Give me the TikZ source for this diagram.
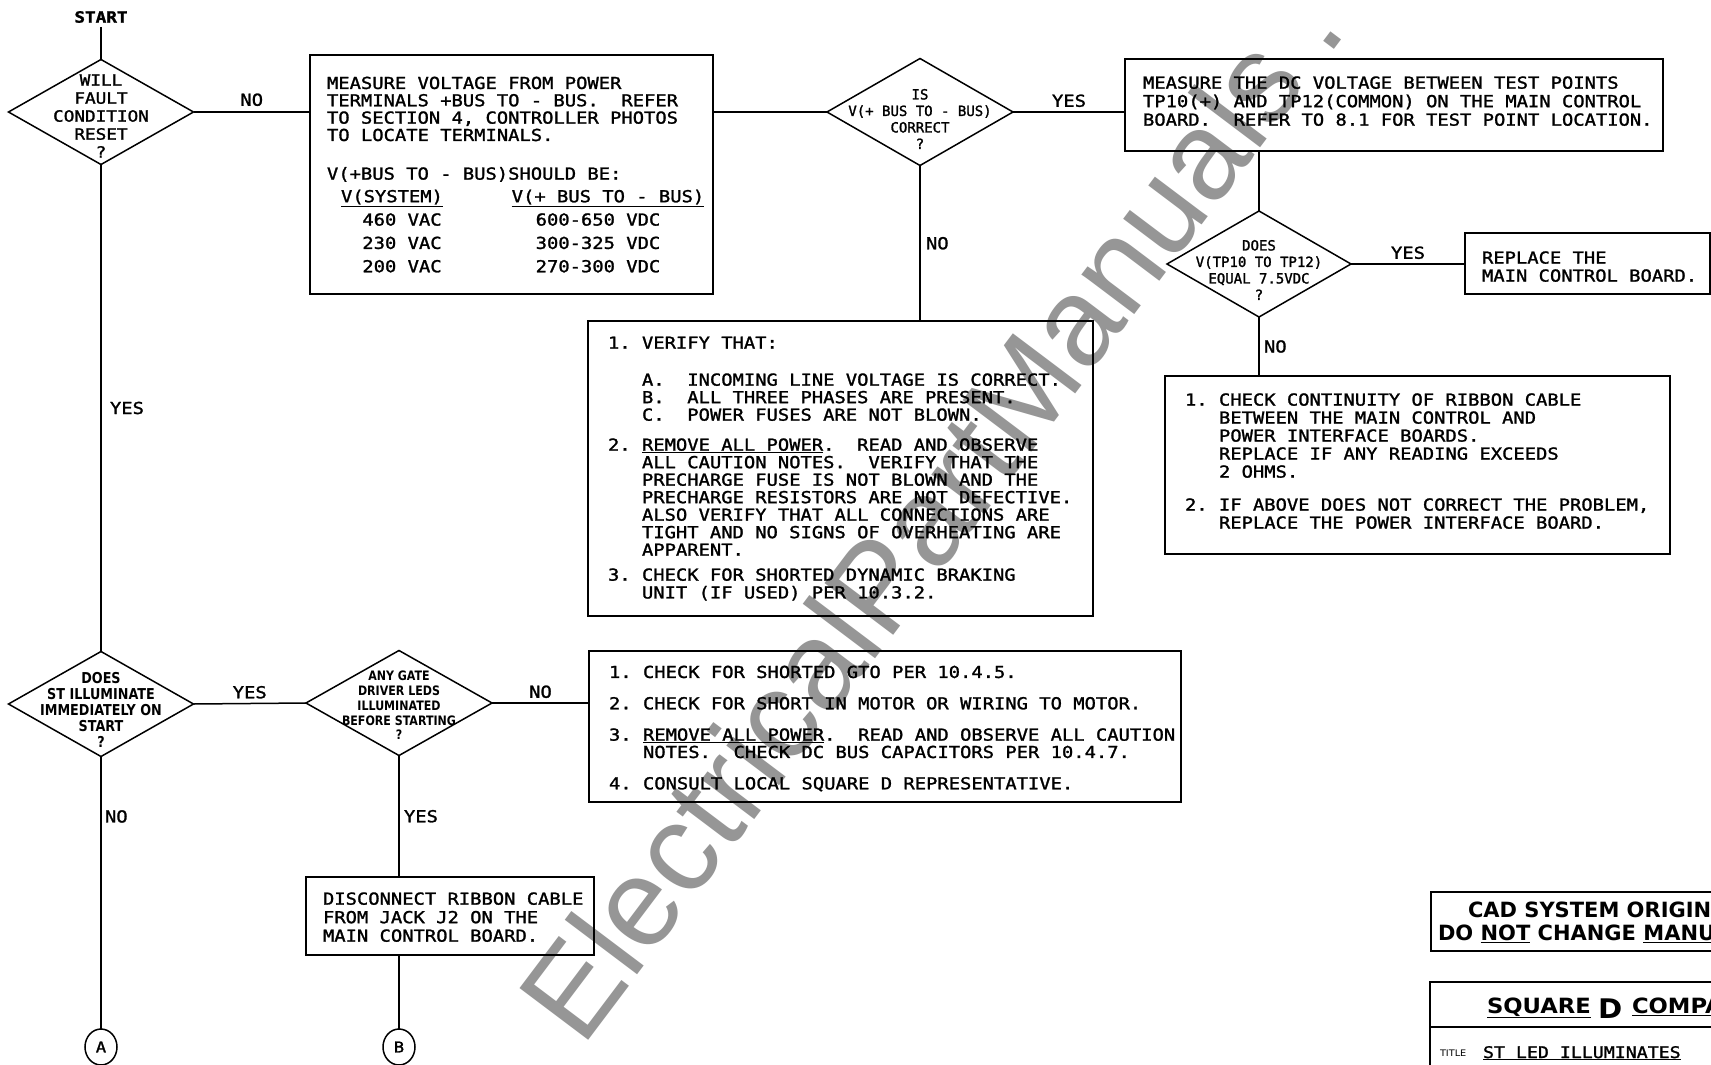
\documentclass[tikz,border=0pt]{standalone}
\usepackage{fontspec}
\usetikzlibrary{shapes.geometric}
\setmainfont{DejaVu Sans}
\newfontfamily\cadfont[FakeStretch=1.14,FakeBold=1.5]{DejaVu Sans Mono}
\newfontfamily\cadcond[FakeStretch=1.0,FakeBold=1.5]{DejaVu Sans Mono}
\newfontfamily\condfont[FakeStretch=0.85]{DejaVu Sans}
\newfontfamily\tbfont[FakeStretch=1.08]{DejaVu Sans}
\newfontfamily\wmfont{Liberation Sans}
\definecolor{wmgray}{RGB}{150,150,150}
\newcommand\hng[2]{\makebox[#1][l]{#2}}
\begin{document}
\begin{tikzpicture}[x=1pt,y=-1pt,
  every node/.style={inner sep=0pt, outer sep=0pt},
  ln/.style={line width=1.5pt},
  bx/.style={draw, line width=1.5pt, rectangle, anchor=north west},
  dia/.style={draw, line width=1.5pt, diamond},
  tx/.style={anchor=north west},
  ftx/.style={font=\cadfont\fontsize{16.5}{#1}\selectfont},
  lab/.style={font=\cadfont\fontsize{16.5}{18}\selectfont},
  dtxt/.style={align=center, anchor=center},
  wm/.style={font=\wmfont\fontsize{125}{125}\selectfont, text=wmgray, anchor=base west, rotate=53},
  cadt/.style={font=\bfseries\fontsize{21}{21}\selectfont, anchor=base west},
  tbb/.style={font=\tbfont\bfseries\fontsize{#1}{#1}\selectfont, anchor=base west},
  conn/.style={draw, line width=1.5pt, ellipse, minimum width=32pt, minimum height=36pt, font=\cadfont\fontsize{15}{15}\selectfont}
]
\useasboundingbox (0,0) rectangle (1711,1065);
\fill[white] (0,0) rectangle (1711,1065);

% watermark
\node[wm] (wm) at (582,1048) {ElectricalPartManuals\hspace{30pt}.};

% boxes
\node[bx, minimum width=403pt, minimum height=239pt,
  label={[tx, ftx=17, inner xsep=17pt, inner ysep=21.7pt]north west:{\begin{tabular}{@{}l@{}}
MEASURE VOLTAGE FROM POWER\\
TERMINALS +BUS TO - BUS.\ \ REFER\\
TO SECTION 4, CONTROLLER PHOTOS\\
TO LOCATE TERMINALS.\\[21pt]
V(+BUS TO - BUS)SHOULD BE:\\[5pt]
\hspace*{15pt}\makebox[100pt]{\underline{V(SYSTEM)}}\hspace*{71pt}\makebox[190pt]{\underline{V(+ BUS TO - BUS)}}\\[6pt]
\hspace*{25pt}\makebox[100pt]{460 VAC}\hspace*{51pt}\makebox[190pt]{600-650 VDC}\\[6pt]
\hspace*{25pt}\makebox[100pt]{230 VAC}\hspace*{51pt}\makebox[190pt]{300-325 VDC}\\[6pt]
\hspace*{25pt}\makebox[100pt]{200 VAC}\hspace*{51pt}\makebox[190pt]{270-300 VDC}
\end{tabular}}}] (b1) at (310,55) {};

\node[bx, minimum width=538pt, minimum height=92pt,
  label={[tx, ftx=18.5, inner xsep=18pt, inner ysep=16.7pt]north west:{\begin{tabular}{@{}l@{}}
MEASURE THE DC VOLTAGE BETWEEN TEST POINTS\\
TP10(+) AND TP12(COMMON) ON THE MAIN CONTROL\\
BOARD.\ \ REFER TO 8.1 FOR TEST POINT LOCATION.
\end{tabular}}}] (b2) at (1125,59) {};

\node[bx, minimum width=245pt, minimum height=61pt,
  label={[tx, ftx=18, inner xsep=17pt, inner ysep=18pt]north west:{\begin{tabular}{@{}l@{}}
REPLACE THE\\
MAIN CONTROL BOARD.
\end{tabular}}}] (b3) at (1465,233) {};

\node[bx, minimum width=505pt, minimum height=295pt,
  label={[tx, ftx=17.5, inner xsep=20pt, inner ysep=15.4pt]north west:{\begin{tabular}{@{}l@{}}
\hng{34pt}{1.}VERIFY THAT:\\[19.5pt]
\hspace*{34pt}\hng{45.3pt}{A.}INCOMING LINE VOLTAGE IS CORRECT.\\
\hspace*{34pt}\hng{45.3pt}{B.}ALL THREE PHASES ARE PRESENT.\\
\hspace*{34pt}\hng{45.3pt}{C.}POWER FUSES ARE NOT BLOWN.\\[12.5pt]
\hng{34pt}{2.}\underline{REMOVE ALL POWER}.\ \ READ AND OBSERVE\\
\hspace*{34pt}ALL CAUTION NOTES.\ \ VERIFY THAT THE\\
\hspace*{34pt}PRECHARGE FUSE IS NOT BLOWN AND THE\\
\hspace*{34pt}PRECHARGE RESISTORS ARE NOT DEFECTIVE.\\
\hspace*{34pt}ALSO VERIFY THAT ALL CONNECTIONS ARE\\
\hspace*{34pt}TIGHT AND NO SIGNS OF OVERHEATING ARE\\
\hspace*{34pt}APPARENT.\\[7.5pt]
\hng{34pt}{3.}CHECK FOR SHORTED DYNAMIC BRAKING\\
\hspace*{34pt}UNIT (IF USED) PER 10.3.2.
\end{tabular}}}] (b4) at (588,321) {};

\node[bx, minimum width=505pt, minimum height=178pt,
  label={[tx, ftx=18, inner xsep=20pt, inner ysep=17pt]north west:{\begin{tabular}{@{}l@{}}
\hng{34pt}{1.}CHECK CONTINUITY OF RIBBON CABLE\\
\hspace*{34pt}BETWEEN THE MAIN CONTROL AND\\
\hspace*{34pt}POWER INTERFACE BOARDS.\\
\hspace*{34pt}REPLACE IF ANY READING EXCEEDS\\
\hspace*{34pt}2 OHMS.\\[15pt]
\hng{34pt}{2.}IF ABOVE DOES NOT CORRECT THE PROBLEM,\\
\hspace*{34pt}REPLACE THE POWER INTERFACE BOARD.
\end{tabular}}}] (b5) at (1165,376) {};

\node[bx, minimum width=592pt, minimum height=151pt,
  label={[tx, ftx=17, inner xsep=20pt, inner ysep=14.7pt]north west:{\begin{tabular}{@{}l@{}}
\hng{34pt}{1.}CHECK FOR SHORTED GTO PER 10.4.5.\\[14pt]
\hng{34pt}{2.}CHECK FOR SHORT IN MOTOR OR WIRING TO MOTOR.\\[14pt]
\hng{34pt}{3.}\underline{REMOVE ALL POWER}.\ \ READ AND OBSERVE ALL CAUTION\\
\hspace*{34pt}NOTES.\ \ CHECK DC BUS CAPACITORS PER 10.4.7.\\[14pt]
\hng{34pt}{4.}CONSULT LOCAL SQUARE D REPRESENTATIVE.
\end{tabular}}}] (b6) at (589,651) {};

\node[bx, minimum width=288pt, minimum height=78pt,
  label={[tx, ftx=18.5, inner xsep=17pt, inner ysep=14.7pt]north west:{\begin{tabular}{@{}l@{}}
DISCONNECT RIBBON CABLE\\
FROM JACK J2 ON THE\\
MAIN CONTROL BOARD.
\end{tabular}}}] (b7) at (306,877) {};

% diamonds
\node[dia, minimum width=185pt, minimum height=105pt,
  label={[dtxt, font=\cadfont\fontsize{15.5}{18}\selectfont, yshift=-4pt]center:{WILL\\FAULT\\CONDITION\\RESET\\?}}] (d1) at (101,112) {};
\node[dia, minimum width=186pt, minimum height=107pt,
  label={[dtxt, font=\cadcond\fontsize{14}{16.5}\selectfont, yshift=-7pt]center:{IS\\V(+ BUS TO - BUS)\\CORRECT\\?}}] (d2) at (920,112) {};
\node[dia, minimum width=184pt, minimum height=106pt,
  label={[dtxt, font=\cadcond\fontsize{14}{16.5}\selectfont, yshift=-6pt]center:{DOES\\V(TP10 TO TP12)\\EQUAL 7.5VDC\\?}}] (d3) at (1259,264) {};
\node[dia, minimum width=185pt, minimum height=105pt,
  label={[dtxt, font=\condfont\bfseries\fontsize{15}{16}\selectfont, yshift=-6pt]center:{DOES\\ST ILLUMINATE\\IMMEDIATELY ON\\START\\?}}] (d4) at (101,704) {};
\node[dia, minimum width=186pt, minimum height=105pt,
  label={[dtxt, font=\condfont\bfseries\fontsize{13}{14.7}\selectfont, yshift=-2.5pt]center:{ANY GATE\\DRIVER LEDS\\ILLUMINATED\\BEFORE STARTING\\?}}] (d5) at (399,703) {};

% start and connectors
\node[font=\cadfont\bfseries\fontsize{15.5}{15.5}\selectfont, inner sep=4pt] (start) at (101,17) {START};
\node[conn] (ca) at (101,1047) {A};
\node[conn] (cb) at (399,1047) {B};

\draw[ln] (start.south) -- (d1.north);
\draw[ln] (d1.east) -- (d1.east -| b1.west) node[midway, above=6pt, lab] (l1) {NO};
\draw[ln] (b1.east |- d2.west) -- (d2.west);
\draw[ln] (d2.east) -- (d2.east -| b2.west) node[midway, above=5pt, lab] (l2) {YES};
\draw[ln] (d3.north |- b2.south) -- (d3.north);
\draw[ln] (d3.east) -- (d3.east -| b3.west) node[midway, above=5pt, lab] (l3) {YES};
\draw[ln] (d2.south) -- (d2.south |- b4.north) node[midway, right=6pt, lab] (l4) {NO};
\draw[ln] (d3.south) -- (d3.south |- b5.north) node[midway, right=5pt, lab] (l5) {NO};
\draw[ln] (d1.south) -- (d4.north) node[midway, right=9pt, lab] (l6) {YES};
\draw[ln] (d4.east) -- (d5.west) node[midway, above=5pt, lab] (l7) {YES};
\draw[ln] (d5.east) -- (d5.east -| b6.west) node[midway, above=5pt, lab] (l8) {NO};
\draw[ln] (d4.south) -- (ca.north) node[pos=0.22, right=4pt, lab] (l9) {NO};
\draw[ln] (d5.south) -- (d5.south |- b7.north) node[midway, right=5pt, lab] (l10) {YES};
\draw[ln] (b7.south -| cb.north) -- (cb.north);

% title block
\begin{scope}
\clip (0,0) rectangle (1711,1065);
\node[bx, minimum width=400pt, minimum height=59pt] (cad) at (1431,892) {};
\node[cadt] (cad1) at (1468,917.5) {CAD SYSTEM ORIGINAL};
\node[cadt] (cad2) at (1438,940.5) {DO \underline{NOT} CHANGE \underline{MANUALLY}};
\node[bx, minimum width=400pt, minimum height=120pt] (sqd) at (1430,982) {};
\draw[ln] (1430,1027) -- (1711,1027);
\node[tbb=21] (sq) at (1487,1013) {\underline{SQUARE}};
\node[tbb=27] (dlogo) at (1598,1018) {D};
\node[tbb=21] (comp) at (1632,1013) {\underline{COMPANY}};
\node[font=\tbfont\fontsize{9}{9}\selectfont, anchor=base west] (ttl) at (1440,1056) {TITLE};
\node[font=\cadfont\fontsize{16}{16}\selectfont, anchor=base west] (ttxt) at (1483,1058) {\underline{ST LED ILLUMINATES}};
\end{scope}
\end{tikzpicture}
\end{document}
